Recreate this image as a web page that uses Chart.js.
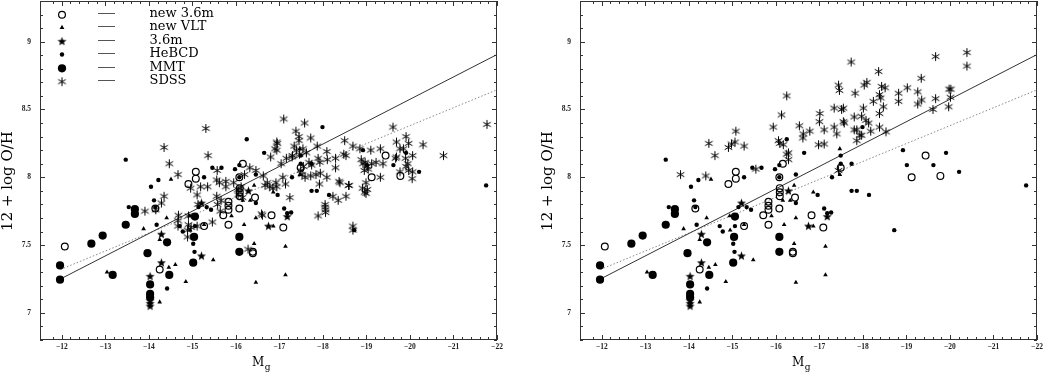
<!DOCTYPE html>
<html><head><meta charset="utf-8">
<script src="https://cdn.jsdelivr.net/npm/chart.js@4.4.1/dist/chart.umd.min.js"></script>
<style>
html,body{margin:0;padding:0;background:#fff;}
#wrap{position:relative;width:1045px;height:375px;overflow:hidden;}
canvas{position:absolute;top:0;}
#c1{left:0;} #c2{left:520px;}
</style></head><body>
<div id="wrap">
<canvas id="c1" width="520" height="375"></canvas>
<canvas id="c2" width="525" height="375"></canvas>
</div>
<script>
// ---------------- data (M_g, 12+log O/H) ----------------
const legendLabels = ['new 3.6m','new VLT','3.6m','HeBCD','MMT','SDSS'];
const xTitle = 'M', xTitleSub = 'g';
const yTitle = '12 + log O/H';

const new36m = [[-12.07,7.49],[-14.15,7.77],[-14.25,7.32],[-14.91,7.95],[-15.08,8.04],[-15.08,7.99],[-15.27,7.64],[-15.71,7.72],[-15.83,7.82],[-15.83,7.79],[-15.83,7.76],[-15.83,7.65],[-16.08,7.77],[-16.09,7.92],[-16.09,7.89],[-16.09,7.86],[-16.08,8.00],[-16.16,8.10],[-16.44,7.85],[-16.39,7.45],[-16.39,7.44],[-16.82,7.72],[-17.09,7.63],[-17.49,8.07],[-19.12,8.00],[-19.44,8.16],[-19.78,8.01]];
const newVLT = [[-13.04,7.30],[-13.88,7.62],[-14.25,7.54],[-14.41,7.70],[-14.51,7.985],[-14.46,7.335],[-14.61,7.355],[-14.85,7.23],[-14.25,7.08],[-14.94,7.715],[-14.95,7.61],[-15.48,7.39],[-15.90,7.715],[-16.16,7.83],[-16.33,7.83],[-16.42,7.94],[-16.19,7.65],[-16.46,7.70],[-16.42,7.51],[-16.86,7.64],[-16.86,7.89],[-17.14,7.49],[-17.14,7.28],[-16.46,7.225],[-17.47,8.21],[-17.47,8.02],[-15.27,7.65]];
const old36m = [[-14.03,7.27],[-14.03,7.09],[-14.03,7.07],[-14.03,7.05],[-14.29,7.58],[-14.29,7.37],[-15.21,7.81],[-15.21,7.42],[-16.29,7.90],[-16.75,7.64],[-17.18,7.71]];
const heBCD = [[-13.47,8.13],[-14.22,7.98],[-14.05,7.93],[-14.12,7.83],[-14.15,7.78],[-13.54,7.78],[-14.18,7.65],[-14.42,7.18],[-14.71,7.64],[-14.78,7.60],[-15.27,8.00],[-15.46,8.07],[-15.67,8.07],[-15.14,7.78],[-15.33,7.78],[-15.43,7.76],[-15.02,7.51],[-15.05,7.45],[-15.06,7.64],[-16.65,8.18],[-16.25,8.28],[-17.49,8.16],[-17.49,8.10],[-17.74,8.10],[-17.29,8.00],[-17.74,7.90],[-17.86,7.90],[-18.14,7.87],[-15.98,8.06],[-16.08,8.09],[-16.46,8.02],[-16.46,7.81],[-16.96,7.87],[-17.11,7.77],[-17.18,7.735],[-17.27,7.74],[-17.99,8.37],[-18.72,7.61],[-18.92,8.20],[-19.01,8.09],[-19.62,8.09],[-19.91,8.18],[-20.21,8.04],[-21.75,7.94],[-16.08,8.00]];
const mmt = [[-11.96,7.35],[-11.96,7.245],[-12.68,7.51],[-12.94,7.57],[-13.17,7.28],[-13.47,7.65],[-13.68,7.765],[-13.68,7.73],[-13.97,7.44],[-14.42,7.52],[-14.47,7.28],[-14.03,7.21],[-14.03,7.14],[-14.03,7.115],[-15.06,7.71],[-15.04,7.56],[-15.02,7.37],[-16.08,7.56],[-16.08,7.45]];
const sdssLeft = [[-15.31,8.36],[-14.35,8.22],[-15.36,8.16],[-14.47,8.10],[-14.67,8.02],[-13.91,7.75],[-14.35,7.86],[-14.29,7.81],[-14.16,7.76],[-15.19,7.93],[-15.35,7.93],[-14.96,7.92],[-15.11,7.87],[-15.13,7.80],[-14.68,7.72],[-14.67,7.68],[-14.67,7.64],[-14.91,7.715],[-14.91,7.65],[-14.97,7.63],[-14.89,7.61],[-15.11,7.64],[-15.46,7.67],[-14.89,7.56],[-15.57,8.05],[-15.56,7.98],[-15.62,7.96],[-15.77,7.97],[-15.77,7.93],[-15.56,7.86],[-15.58,7.80],[-15.66,7.83],[-15.64,7.75],[-15.95,7.96],[-16.20,8.02],[-16.32,8.07],[-16.46,8.05],[-16.05,7.91],[-16.12,7.93],[-16.63,8.01],[-16.72,7.96],[-16.80,8.15],[-16.94,8.20],[-16.95,8.25],[-16.92,7.96],[-16.61,7.72],[-16.28,7.47],[-16.05,7.87],[-16.15,7.85],
[-17.10,8.43],[-17.58,8.40],[-17.38,8.34],[-17.45,8.30],[-17.45,8.27],[-17.72,8.29],[-17.34,8.23],[-17.39,8.20],[-17.46,8.17],[-17.54,8.21],[-17.29,8.15],[-17.87,8.23],[-16.94,8.26],[-16.90,8.21],[-17.04,8.10],[-17.30,8.16],[-17.16,8.14],[-17.62,8.18],[-17.68,8.11],[-17.55,8.08],[-17.74,8.09],[-17.89,8.14],[-17.93,8.11],[-18.09,8.19],[-18.10,8.13],[-18.29,8.14],[-18.29,8.07],[-17.94,8.03],[-17.84,8.02],[-17.72,8.01],[-17.59,8.00],[-17.52,8.02],[-17.49,8.05],[-18.09,8.00],[-17.92,7.95],[-18.50,8.27],[-18.53,8.16],[-18.48,8.17],[-18.69,8.23],[-18.85,8.21],[-18.39,7.96],[-18.59,7.94],[-17.24,7.85],[-17.14,7.95],[-17.08,8.00],[-16.94,7.93],[-16.85,7.92],[-16.78,7.93],[-16.67,7.94],[-16.59,7.73],[-17.89,7.715],[-18.05,7.80],[-18.05,7.78],[-18.06,7.76],[-18.06,7.74],[-18.23,7.86],[-18.35,7.83],[-18.53,7.86],[-18.69,7.64],[-18.69,7.61],[-18.88,8.13],[-18.92,8.10],[-18.97,8.11],[-19.02,8.08],[-19.04,8.06],[-18.99,7.96],[-18.99,7.88],[-19.02,7.91],
[-19.61,8.37],[-19.91,8.30],[-19.97,8.25],[-19.69,8.26],[-19.77,8.21],[-19.85,8.21],[-20.30,8.24],[-20.77,8.16],[-21.77,8.39],[-19.10,8.20],[-19.32,8.21],[-19.69,8.15],[-19.90,8.14],[-19.95,8.10],[-20.06,8.16],[-19.91,8.08],[-19.97,8.05],[-20.06,8.04],[-20.05,7.99],[-19.77,8.04],[-19.32,8.00],[-19.12,8.10],[-19.22,8.11],[-19.38,8.10],[-18.95,8.05],[-19.67,8.14],[-18.37,7.97],[-18.60,7.94],[-18.91,7.92],[-18.96,7.89]];
const sdssRight = [[-13.81,8.02],[-14.39,8.01],[-14.46,8.25],[-14.60,8.16],[-14.91,8.22],[-14.98,8.245],[-15.06,8.26],[-15.08,8.34],[-15.27,8.23],[-15.54,8.06],[-15.94,8.37],[-16.06,8.27],[-16.09,8.25],[-16.17,8.24],[-16.13,8.46],[-16.25,8.60],[-16.25,8.17],[-16.29,8.13],[-16.29,8.18],[-16.54,8.38],[-16.63,8.32],[-16.62,8.29],[-16.78,8.34],[-17.00,8.41],[-17.01,8.47],[-17.11,8.35],[-17.11,8.245],[-17.34,8.51],[-17.34,8.37],[-17.40,8.32],[-17.44,8.68],[-17.46,8.64],[-17.51,8.50],[-17.55,8.51],[-17.55,8.41],[-17.57,8.40],[-17.44,8.05],[-17.73,8.85],[-17.80,8.445],[-17.80,8.35],[-17.82,8.62],[-17.86,8.35],[-17.86,8.27],[-17.93,8.31],[-17.97,8.45],[-17.97,8.31],[-18.01,8.51],[-18.03,8.68],[-18.09,8.70],[-18.07,8.42],[-18.13,8.40],[-18.18,8.34],[-18.24,8.56],[-18.36,8.78],[-18.38,8.61],[-18.41,8.585],[-18.43,8.67],[-18.51,8.66],[-18.47,8.52],[-18.38,8.47],[-18.38,8.37],[-18.53,8.335],[-18.82,8.62],[-18.82,8.56],[-19.02,8.66],[-19.26,8.63],[-19.26,8.54],[-19.35,8.57],[-19.34,8.73],[-19.67,8.89],[-19.67,8.58],[-19.61,8.50],[-19.98,8.65],[-20.02,8.65],[-20.01,8.59],[-19.97,8.52],[-20.39,8.92],[-20.39,8.82],[-16.98,8.24]];
const fitSolid = [[-11.97,7.25],[-22,8.905]];
const fitDotted = [[-11.97,7.32],[-22,8.645]];
const xMin = -22, xMax = -11.5, yMin = 6.8, yMax = 9.3;

// ---------------- marker images ----------------
function makeAsterisk(){
  const c=document.createElement('canvas'); c.width=11; c.height=11;
  const g=c.getContext('2d'); g.strokeStyle='#000'; g.lineWidth=1; g.translate(5.5,5.5);
  for(let k=0;k<3;k++){ const a=Math.PI/2+k*Math.PI/3;
    g.beginPath(); g.moveTo(Math.cos(a)*4.4,Math.sin(a)*4.4); g.lineTo(-Math.cos(a)*4.4,-Math.sin(a)*4.4); g.stroke(); }
  return c;
}
function starPath(g,cx,cy,ro,ri){
  g.beginPath();
  for(let k=0;k<10;k++){ const r=k%2?ri:ro; const a=-Math.PI/2+k*Math.PI/5;
    const x=cx+Math.cos(a)*r, y=cy+Math.sin(a)*r; if(k===0) g.moveTo(x,y); else g.lineTo(x,y); }
  g.closePath();
}
function makeStar(){
  const c=document.createElement('canvas'); c.width=11; c.height=11;
  const g=c.getContext('2d'); g.fillStyle='#000'; starPath(g,5.5,5.8,4.7,2.0); g.fill(); return c;
}
const astImg = makeAsterisk(), starImg = makeStar();
const pts = a => a.map(p => ({x:p[0], y:p[1]}));

function datasets(sdss){
  return [
    {label:'SDSS', data:pts(sdss), pointStyle:astImg, pointRadius:5},
    {label:'HeBCD', data:pts(heBCD), pointStyle:'circle', pointRadius:2.2, backgroundColor:'#000', borderColor:'#000', borderWidth:0},
    {label:'new VLT', data:pts(newVLT), pointStyle:'triangle', pointRadius:2.7, backgroundColor:'#000', borderColor:'#000', borderWidth:0},
    {label:'MMT', data:pts(mmt), pointStyle:'circle', pointRadius:4.1, backgroundColor:'#000', borderColor:'#000', borderWidth:0},
    {label:'3.6m', data:pts(old36m), pointStyle:starImg, pointRadius:5},
    {label:'new 3.6m', data:pts(new36m), pointStyle:'circle', pointRadius:3.4, backgroundColor:'rgba(0,0,0,0)', borderColor:'#000', borderWidth:1.2},
    {type:'line', label:'fit', data:pts(fitSolid), borderColor:'#333', borderWidth:1, pointRadius:0, showLine:true, fill:false},
    {type:'line', label:'fit2', data:pts(fitDotted), borderColor:'#888', borderWidth:1, borderDash:[1.5,2], pointRadius:0, showLine:true, fill:false}
  ];
}

const isMajorX = v => Math.abs(v - Math.round(v)) < 1e-6;
const isMajorY = v => Math.abs(v*2 - Math.round(v*2)) < 1e-6;
const tickFont = {family:'"Liberation Serif"', size:7.5, weight:'bold'};

const framePlugin = {
  id:'frame',
  afterDraw(chart){
    const ctx=chart.ctx, a=chart.chartArea, sx=chart.scales.x, sy=chart.scales.y;
    ctx.save();
    ctx.strokeStyle='#333'; ctx.lineWidth=1;
    ctx.strokeRect(a.left+0.5,a.top+0.5,a.right-a.left-1,a.bottom-a.top-1);
    ctx.beginPath();
    sx.ticks.forEach(t=>{ const p=Math.round(sx.getPixelForValue(t.value))+0.5; const L=isMajorX(t.value)?5:3;
      ctx.moveTo(p,a.bottom); ctx.lineTo(p,a.bottom-L); ctx.moveTo(p,a.top); ctx.lineTo(p,a.top+L); });
    sy.ticks.forEach(t=>{ const p=Math.round(sy.getPixelForValue(t.value))+0.5; const L=isMajorY(t.value)?5:3;
      ctx.moveTo(a.left,p); ctx.lineTo(a.left+L,p); ctx.moveTo(a.right,p); ctx.lineTo(a.right-L,p); });
    ctx.stroke();
    // axis titles
    ctx.fillStyle='#000';
    ctx.save(); ctx.translate(a.left-32,181); ctx.rotate(-Math.PI/2);
    ctx.font='15px "DejaVu Serif"'; ctx.textAlign='center'; ctx.textBaseline='middle';
    ctx.fillText(yTitle,0,0); ctx.restore();
    ctx.font='12px "DejaVu Serif"'; ctx.textAlign='left'; ctx.textBaseline='alphabetic';
    const mx=a.left+212; ctx.fillText(xTitle,mx,366);
    const w=ctx.measureText(xTitle).width;
    ctx.font='9px "DejaVu Serif"'; ctx.fillText(xTitleSub,mx+w+0.5,370);
    ctx.restore();
  }
};

const legendPlugin = {
  id:'legendBox',
  afterDraw(chart){
    const ctx=chart.ctx; ctx.save();
    const rows=[14.7,27.5,41.3,54.5,68.3,81.7];
    const sx=62;
    rows.forEach((y,i)=>{
      ctx.fillStyle='#000'; ctx.strokeStyle='#000';
      if(i===0){ ctx.lineWidth=1.2; ctx.beginPath(); ctx.arc(sx,y,3.4,0,Math.PI*2); ctx.stroke(); }
      else if(i===1){ ctx.beginPath(); ctx.moveTo(sx,y-2.7); ctx.lineTo(sx+2.4,y+1.5); ctx.lineTo(sx-2.4,y+1.5); ctx.closePath(); ctx.fill(); }
      else if(i===2){ ctx.drawImage(starImg,sx-5.5,y-5.5); }
      else if(i===3){ ctx.beginPath(); ctx.arc(sx,y,2.2,0,Math.PI*2); ctx.fill(); }
      else if(i===4){ ctx.beginPath(); ctx.arc(sx,y,4.1,0,Math.PI*2); ctx.fill(); }
      else { ctx.drawImage(astImg,sx-5.5,y-5.5); }
      ctx.strokeStyle='#555'; ctx.lineWidth=1; ctx.beginPath(); ctx.moveTo(98,Math.round(y-1.5)+0.5); ctx.lineTo(115,Math.round(y-1.5)+0.5); ctx.stroke();
      ctx.fillStyle='#000'; ctx.font='13px "DejaVu Serif"'; ctx.textBaseline='alphabetic'; ctx.textAlign='left';
      ctx.fillText(legendLabels[i],149.5,y+2.5);
    });
    ctx.restore();
  }
};

function makeChart(id, sdss, yWidth, padRight, withLegend){
  return new Chart(document.getElementById(id), {
    type:'scatter',
    data:{datasets:datasets(sdss)},
    options:{
      responsive:false, animation:false, events:[], devicePixelRatio:1,
      layout:{autoPadding:false, padding:{top:1,right:padRight,left:0,bottom:0}},
      plugins:{legend:{display:false}, tooltip:{enabled:false}, title:{display:false}},
      scales:{
        x:{type:'linear', min:xMin, max:xMax, reverse:true,
           grid:{display:false, drawTicks:false}, border:{display:false},
           ticks:{stepSize:0.2, autoSkip:false, maxRotation:0, minRotation:0, padding:3, font:tickFont, color:'#222',
             callback:v=> isMajorX(v) ? '\u2212'+Math.abs(Math.round(v)) : ''},
           afterFit:s=>{s.height=35; s.paddingLeft=0; s.paddingRight=0;}},
        y:{type:'linear', min:yMin, max:yMax,
           grid:{display:false, drawTicks:false}, border:{display:false},
           ticks:{stepSize:0.1, autoSkip:false, padding:9, font:tickFont, color:'#222',
             callback:v=> isMajorY(v) ? String(Math.round(v*2)/2) : ''},
           afterFit:s=>{s.width=yWidth; s.paddingTop=0; s.paddingBottom=0;}}
      }
    },
    plugins: withLegend ? [framePlugin, legendPlugin] : [framePlugin]
  });
}
makeChart('c1', sdssLeft, 40, 23, true);
makeChart('c2', sdssRight, 60, 8, false);
</script>
</body></html>
